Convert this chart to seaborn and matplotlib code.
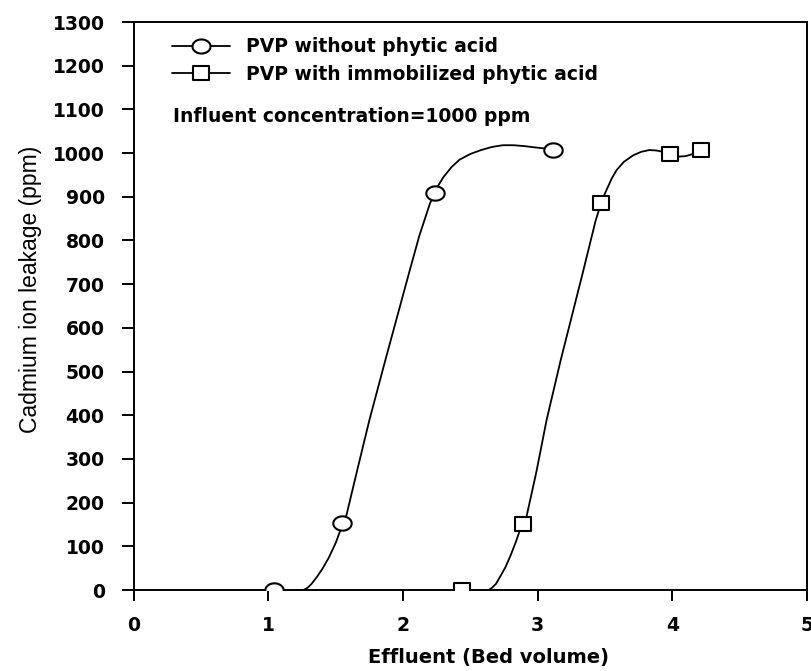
import numpy as np
import pandas as pd
import matplotlib
matplotlib.use("Agg")
import matplotlib.pyplot as plt
from matplotlib.path import Path
from matplotlib.lines import Line2D
import seaborn as sns

# ---------------- Data ----------------
# measured points
circle_x = [1.04, 1.55, 2.24, 3.11]
circle_y = [0, 154, 908, 1007]
square_x = [2.44, 2.89, 3.47, 3.98, 4.21]
square_y = [0, 151, 885, 998, 1007]

# traced fitted curves
circle_curve_x = [1.04, 1.26, 1.29, 1.32, 1.36, 1.40, 1.45, 1.50, 1.53, 1.58,
                  1.66, 1.75, 1.87, 2.05, 2.12, 2.20, 2.26, 2.30, 2.36, 2.42,
                  2.50, 2.58, 2.66, 2.74, 2.82, 2.90, 2.98, 3.04, 3.11]
circle_curve_y = [0, 0, 5, 14, 30, 48, 75, 108, 133, 172,
                  275, 389, 528, 732, 810, 885, 925, 945, 968, 985,
                  998, 1007, 1014, 1018, 1018, 1016, 1013, 1011, 1007]
square_curve_x = [2.44, 2.635, 2.66, 2.69, 2.72, 2.76, 2.80, 2.84, 2.868, 2.917,
                  2.99, 3.066, 3.17, 3.33, 3.43, 3.47, 3.50, 3.55, 3.586, 3.64,
                  3.71, 3.77, 3.83, 3.88, 3.93, 3.98, 4.04, 4.10, 4.153, 4.21]
square_curve_y = [0, 0, 5, 14, 30, 52, 80, 112, 137, 168,
                  270, 389, 525, 720, 845, 885, 908, 942, 961, 980,
                  995, 1003, 1007, 1006, 1003, 998, 992, 993, 998, 1007]

series_labels = ["PVP without phytic acid", "PVP with immobilized phytic acid"]
note_text = "Influent concentration=1000 ppm"
x_ticks = [0, 1, 2, 3, 4, 5]
y_ticks = list(range(0, 1301, 100))

# ---------------- Style ----------------
sns.set_style("ticks")
plt.rcParams["font.family"] = ["DejaVu Sans"]
plt.rcParams["text.color"] = "black"
plt.rcParams["axes.labelcolor"] = "black"
bold_font = {"family": "DejaVu Sans", "weight": "bold"}

# slightly flattened markers, as in the scanned original
t = np.linspace(0, 2 * np.pi, 60)
ellipse = Path(np.column_stack([np.cos(t), 0.78 * np.sin(t)]), closed=True)
rect = Path([(-1, -0.82), (1, -0.82), (1, 0.82), (-1, 0.82), (-1, -0.82)], closed=True)

fig = plt.figure(figsize=(8.11, 6.71), dpi=100)
ax = fig.add_axes([0.165, 0.1207, 0.830, 0.8465])

lw = 1.3
sns.lineplot(x=circle_curve_x, y=circle_curve_y, sort=False, estimator=None,
             color="black", lw=lw, ax=ax)
sns.lineplot(x=square_curve_x, y=square_curve_y, sort=False, estimator=None,
             color="black", lw=lw, ax=ax)
sns.scatterplot(x=circle_x, y=circle_y, marker=ellipse, s=175, color="white",
                edgecolor="black", linewidth=1.5, zorder=5, ax=ax)
sns.scatterplot(x=square_x, y=square_y, marker=rect, s=135, color="white",
                edgecolor="black", linewidth=1.5, zorder=5, ax=ax)

ax.set_xlim(0, 5)
ax.set_ylim(0, 1300)
ax.set_xticks(x_ticks)
ax.set_yticks(y_ticks)
for s in ax.spines.values():
    s.set_linewidth(1.4)
    s.set_color("black")
ax.tick_params(axis="x", length=8, width=1.4, pad=11, labelsize=13.5, colors="black")
ax.tick_params(axis="y", length=9, width=1.4, pad=12, labelsize=13.5, colors="black")
for lab in ax.get_xticklabels() + ax.get_yticklabels():
    lab.set_fontweight("bold")

ax.set_xlabel("Effluent (Bed volume)", fontsize=14, fontweight="bold", color="black")
ax.xaxis.set_label_coords(0.527, -0.118)
ax.xaxis.label.set_va("center")
ax.set_ylabel("Cadmium ion leakage (ppm)", fontsize=16.5, color="black",
              family=["Liberation Sans", "DejaVu Sans"])
ax.yaxis.set_label_coords(-0.153, 0.53)
ax.yaxis.label.set_va("center")

# legend
handles = [
    Line2D([], [], color="black", lw=lw, marker=ellipse, markersize=13,
           markerfacecolor="white", markeredgecolor="black", markeredgewidth=1.5),
    Line2D([], [], color="black", lw=lw, marker=rect, markersize=11.5,
           markerfacecolor="white", markeredgecolor="black", markeredgewidth=1.5),
]
leg = ax.legend(handles, series_labels, loc="upper left", bbox_to_anchor=(0.056, 0.973),
                frameon=False, borderpad=0, borderaxespad=0, handlelength=3.1,
                handletextpad=0.89, labelspacing=0.44, labelcolor="black",
                prop={"size": 13.5, **bold_font})

ax.text(0.0584, 0.833, note_text, transform=ax.transAxes, fontsize=13.5,
        fontdict=bold_font, color="black", va="center", ha="left")

fig.savefig("out.png", dpi=100)
